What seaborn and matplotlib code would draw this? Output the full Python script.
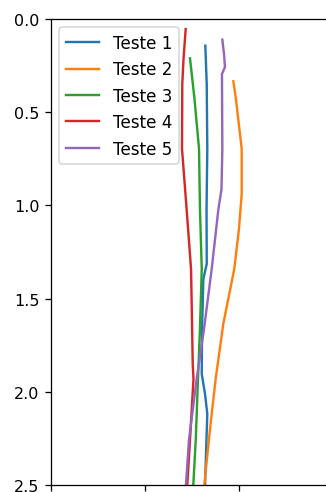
import matplotlib
matplotlib.use("Agg")
import matplotlib.pyplot as plt
import seaborn as sns
import pandas as pd

series_names = ["Teste 1", "Teste 2", "Teste 3", "Teste 4", "Teste 5"]

depth_1 = [0.143, 0.349, 0.697, 1.02, 1.314, 1.395, 1.663, 1.905, 2.012, 2.119, 2.5]
value_1 = [1.647, 1.662, 1.668, 1.66, 1.662, 1.626, 1.612, 1.609, 1.644, 1.668, 1.644]

depth_2 = [0.334, 0.43, 0.697, 0.939, 1.127, 1.341, 1.636, 1.931, 2.2, 2.5]
value_2 = [1.945, 1.973, 2.034, 2.034, 2.005, 1.955, 1.838, 1.757, 1.697, 1.636]

depth_3 = [0.211, 0.429, 0.697, 1.019, 1.341, 1.663, 1.931, 2.259, 2.5]
value_3 = [1.484, 1.532, 1.580, 1.590, 1.609, 1.590, 1.569, 1.545, 1.519]

depth_4 = [0.054, 0.215, 0.349, 0.697, 1.025, 1.341, 1.529, 1.851, 1.931, 2.259, 2.5]
value_4 = [1.438, 1.415, 1.402, 1.399, 1.449, 1.495, 1.502, 1.513, 1.521, 1.484, 1.455]

depth_5 = [0.111, 0.188, 0.258, 0.295, 0.697, 0.912, 1.025, 1.341, 1.663, 1.931, 2.259, 2.5]
value_5 = [1.828, 1.846, 1.856, 1.824, 1.828, 1.819, 1.785, 1.715, 1.633, 1.555, 1.473, 1.441]

depths = [depth_1, depth_2, depth_3, depth_4, depth_5]
values = [value_1, value_2, value_3, value_4, value_5]

rows = []
for name, d, v in zip(series_names, depths, values):
    for di, vi in zip(d, v):
        rows.append({"serie": name, "depth": di, "value": vi})
df = pd.DataFrame(rows)

DPI = 115
fig = plt.figure(figsize=(326 / DPI, 493 / DPI), dpi=DPI)
ax = fig.add_axes([50.5 / 326, 7 / 493, 3 * 94 / 326, 466 / 493])

palette = ["#1f77b4", "#ff7f0e", "#2ca02c", "#d62728", "#9467bd"]
sns.lineplot(data=df, x="value", y="depth", hue="serie", orient="y",
             estimator=None, palette=palette, linewidth=1.5, ax=ax)

ax.set_xlim(0, 3)
ax.set_ylim(2.5, 0)
ax.set_xticks([0, 1, 2, 3])
ax.tick_params(axis="x", labelbottom=False)
ax.set_yticks([0.0, 0.5, 1.0, 1.5, 2.0, 2.5])
ax.tick_params(axis="y", labelsize=10)
ax.set_xlabel("")
ax.set_ylabel("")
ax.legend(loc="upper left", title=None, fontsize=10.5)

fig.savefig("out.png", dpi=DPI)
